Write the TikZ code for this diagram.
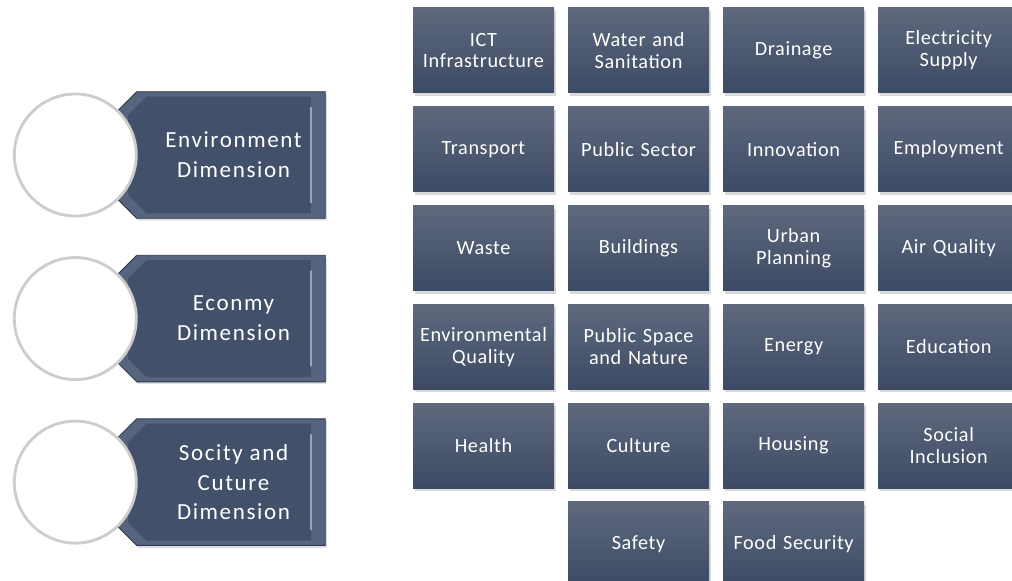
\documentclass[tikz,border=0pt]{standalone}
\usepackage{fontspec}
\setmainfont{Carlito}
\usetikzlibrary{positioning,shadows}

\definecolor{boxtop}{RGB}{94,105,125}
\definecolor{boxbot}{RGB}{60,74,100}
\definecolor{tagface}{RGB}{66,80,106}
\definecolor{tagrim}{RGB}{86,100,126}
\definecolor{tagline}{RGB}{45,55,75}
\definecolor{taghi}{RGB}{150,165,190}
\definecolor{ringgray}{RGB}{205,205,205}

\begin{document}
\begin{tikzpicture}[node distance=0.33cm and 0.3375cm]
    \tikzstyle{topic} = [rectangle, top color=boxtop, bottom color=boxbot, text=white, minimum width=3.525cm, minimum height=2.125cm, inner sep=0pt, text width=3.45cm, align=center, font=\fontsize{14.4}{15.6}\selectfont\addfontfeature{LetterSpace=3}, drop shadow={shadow xshift=0.04cm, shadow yshift=-0.08cm, opacity=0.3}]
    \tikzstyle{dimension} = [rectangle, minimum width=5.175cm, minimum height=3.15cm, inner sep=0pt]
    \tikzstyle{tagrimfill} = [fill=tagrim, draw=tagline, line width=0.6pt, drop shadow={shadow xshift=0.04cm, shadow yshift=-0.06cm, opacity=0.25}]
    \tikzstyle{tagfacefill} = [fill=tagface]
    \tikzstyle{dimtext} = [text=white, align=center, font=\fontsize{16.4}{21.3}\selectfont\addfontfeature{LetterSpace=7}]
    \tikzstyle{highlight} = [taghi, line width=1.6pt, line cap=round]
    \tikzstyle{dimcircle} = [circle, fill=white, draw=ringgray, line width=2pt, minimum size=3.05cm, inner sep=0pt, drop shadow={shadow xshift=0.02cm, shadow yshift=-0.03cm, opacity=0.2}]

    \useasboundingbox (0,0) rectangle (25.3,-14.525);
    \clip (0,0) rectangle (25.3,-14.525);

    % the three dimensions on the left
    \node[dimension] (env) at (5.5375,-3.875) {};
    \node[dimension, below=0.925cm of env] (eco) {};
    \node[dimension, below=0.925cm of eco] (soc) {};

    % tag outline with chamfered left corners, then its bevelled face
    \foreach \d in {env,eco,soc} {
        \path[tagrimfill] ([xshift=0.475cm]\d.north west) -- (\d.north east) -- (\d.south east)
            -- ([xshift=0.475cm]\d.south west) -- ([yshift=0.475cm]\d.south west)
            -- ([yshift=-0.475cm]\d.north west) -- cycle;
        \path[tagfacefill] ([xshift=0.72cm,yshift=-0.12cm]\d.north west) -- ([xshift=-0.36cm,yshift=-0.12cm]\d.north east)
            -- ([xshift=-0.36cm,yshift=0.12cm]\d.south east) -- ([xshift=0.72cm,yshift=0.12cm]\d.south west)
            -- ([xshift=0.26cm,yshift=0.58cm]\d.south west) -- ([xshift=0.26cm,yshift=-0.58cm]\d.north west) -- cycle;
        \draw[highlight] ([xshift=-0.36cm,yshift=-0.4cm]\d.north east) -- ([xshift=-0.36cm,yshift=0.4cm]\d.south east);
    }

    \node[dimtext] (envtext) at ([xshift=0.3cm]env.center) {Environment\\Dimension};
    \node[dimtext] (ecotext) at ([xshift=0.3cm]eco.center) {Econmy\\Dimension};
    \node[dimtext] (soctext) at ([xshift=0.3cm]soc.center) {Socity and\\Cuture\\Dimension};

    \node[dimcircle, left=-0.5cm of env.west] (envcirc) {};
    \node[dimcircle, left=-0.5cm of eco.west] (ecocirc) {};
    \node[dimcircle, left=-0.5cm of soc.west] (soccirc) {};

    % grid of topics
    \node[topic] (ict) at (12.0875,-1.2625) {ICT\\Infrastructure};
    \node[topic, right=of ict] (water) {Water and\\Sanitation};
    \node[topic, right=of water] (drain) {Drainage};
    \node[topic, right=of drain] (elec) {Electricity\\Supply};

    \node[topic, below=of ict] (transp) {Transport};
    \node[topic, right=of transp] (public) {Public Sector};
    \node[topic, right=of public] (innov) {Innovation};
    \node[topic, right=of innov] (employ) {Employment};

    \node[topic, below=of transp] (waste) {Waste};
    \node[topic, right=of waste] (build) {Buildings};
    \node[topic, right=of build] (urban) {Urban\\Planning};
    \node[topic, right=of urban] (air) {Air Quality};

    \node[topic, below=of waste] (envq) {Environmental\\Quality};
    \node[topic, right=of envq] (space) {Public Space\\and Nature};
    \node[topic, right=of space] (energy) {Energy};
    \node[topic, right=of energy] (edu) {Education};

    \node[topic, below=of envq] (health) {Health};
    \node[topic, right=of health] (cult) {Culture};
    \node[topic, right=of cult] (house) {Housing};
    \node[topic, right=of house] (social) {Social\\Inclusion};

    \node[topic, below=of cult] (safety) {Safety};
    \node[topic, below=of house] (food) {Food Security};
\end{tikzpicture}
\end{document}
